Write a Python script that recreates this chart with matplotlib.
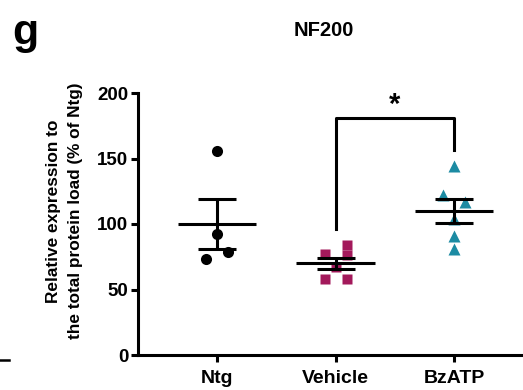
import numpy as np
import matplotlib
matplotlib.use("Agg")
import matplotlib.pyplot as plt
from matplotlib.lines import Line2D

plt.rcParams['font.family'] = ['Liberation Sans', 'DejaVu Sans']
plt.rcParams['font.weight'] = 'bold'

groups = ["Ntg", "Vehicle", "BzATP"]
ntg = [156, 92, 73, 79]
ntg_dx = [0, 0, -0.09, 0.09]
vehicle = [77, 84, 76, 67, 58, 58]
vehicle_dx = [-0.09, 0.1, 0.1, 0, -0.09, 0.1]
bzatp = [144, 122, 117, 104, 91, 81]
bzatp_dx = [0, -0.09, 0.09, 0, 0, 0]
colors = ["black", "#A3195B", "#1C8BA3"]
markers = ["o", "s", "^"]
msizes = [8, 7.5, 8]

fig = plt.figure(figsize=(5.23, 3.9), dpi=100)
ax = fig.add_axes([138/523, 1-355/390, 1-138/523, (355-93)/390])

data = [ntg, vehicle, bzatp]
offs = [ntg_dx, vehicle_dx, bzatp_dx]
for i, (vals, dx) in enumerate(zip(data, offs)):
    v = np.array(vals, dtype=float)
    ax.plot(i + np.array(dx), v, linestyle='none', marker=markers[i],
            ms=msizes[i], color=colors[i], mec='none', zorder=2, clip_on=False)
    m = v.mean()
    s = v.std(ddof=1) / np.sqrt(len(v))
    ax.hlines(m, i - 0.33, i + 0.33, color='black', lw=2.2, zorder=3)
    ax.errorbar(i, m, yerr=s, color='black', elinewidth=2.2, capsize=14,
                capthick=2.2, zorder=3)

# significance bracket
ax.plot([1, 1, 2, 2], [96, 180.7, 180.7, 156.5], color='black', lw=2.2,
        clip_on=False, zorder=3)
ax.text(1.5, 191, "*", ha='center', va='center', fontsize=21,
        fontweight='bold')

ax.set_xlim(-0.667, 2.582)
ax.set_ylim(0, 200)
ax.set_yticks([0, 50, 100, 150, 200])
ax.set_xticks(range(3))
ax.set_xticklabels(groups)
for side in ['top', 'right']:
    ax.spines[side].set_visible(False)
for side in ['left', 'bottom']:
    ax.spines[side].set_linewidth(2.2)
ax.tick_params(axis='y', length=5, width=2.2, labelsize=13.5, pad=2)
ax.tick_params(axis='x', length=5, width=2.2, labelsize=14, pad=6)
for lab in ax.get_xticklabels() + ax.get_yticklabels():
    lab.set_fontweight('bold')

ax.set_ylabel("Relative expression to\nthe total protein load (% of Ntg)",
              fontsize=12.4, fontweight='bold', linespacing=1.55)
ax.yaxis.set_label_coords(-0.143, 0.55)

fig.text(324/523, 1-30/390, "NF200", ha='center', va='center',
         fontsize=14.5, fontweight='bold')
fig.text(12/523, 1-33/390, "g", ha='left', va='center', fontsize=31,
         fontweight='bold')
fig.add_artist(Line2D([0, 9/523], [1-360/390, 1-360/390], color='black', lw=1.8))

fig.savefig("out.png", dpi=100)
